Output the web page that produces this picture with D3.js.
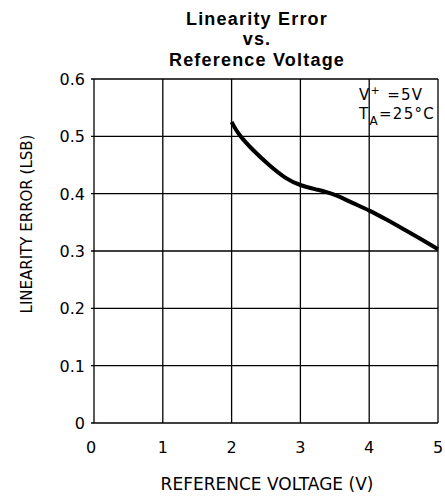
<!DOCTYPE html>
<html>
<head>
<meta charset="utf-8">
<script src="https://cdn.jsdelivr.net/npm/d3@7"></script>
<style>
  body { margin: 0; background: #fff; }
  svg { display: block; }
  .lbl { font-family: "DejaVu Sans", sans-serif; fill: #000; }
  .title { font-family: "Liberation Sans", Arial, sans-serif; font-weight: bold; font-size: 18px; letter-spacing: 1.2px; fill: #000; }
</style>
</head>
<body>
<svg id="chart" width="445" height="497"></svg>
<script>
// curve
var voltage = [2.0, 2.1, 2.3, 2.55, 2.8, 3.0, 3.25, 3.5, 3.75, 4.0, 4.25, 4.5, 4.75, 5.0];
var error   = [0.525, 0.503, 0.477, 0.449, 0.425, 0.414, 0.407, 0.399, 0.384, 0.371, 0.355, 0.338, 0.321, 0.303];

var xTicks = [0, 1, 2, 3, 4, 5];
var yTicks = [0, 0.1, 0.2, 0.3, 0.4, 0.5, 0.6];
var titleLines = ["Linearity Error", "vs.", "Reference Voltage"];

var svg = d3.select("#chart");
var plot = {left: 94, right: 438, top: 79, bottom: 423};

var x = d3.scaleLinear().domain([0, 5]).range([plot.left, plot.right]);
var y = d3.scaleLinear().domain([0, 0.6]).range([plot.bottom, plot.top]);

// grid
svg.append("g")
    .selectAll("line")
    .data(xTicks)
    .join("line")
    .attr("x1", d => x(d)).attr("x2", d => x(d))
    .attr("y1", plot.top).attr("y2", plot.bottom)
    .attr("stroke", "#000").attr("stroke-width", 1.3);

svg.append("g")
    .selectAll("line")
    .data(yTicks)
    .join("line")
    .attr("x1", plot.left - 3).attr("x2", plot.right)
    .attr("y1", d => y(d)).attr("y2", d => y(d))
    .attr("stroke", "#000").attr("stroke-width", 1.3);

// tick labels
svg.append("g")
    .selectAll("text")
    .data(xTicks)
    .join("text")
    .attr("class", "lbl")
    .attr("x", d => x(d) - (d == 0 ? 3 : 0))
    .attr("y", 453)
    .attr("text-anchor", "middle")
    .style("font-size", "16px")
    .text(d => d);

svg.append("g")
    .selectAll("text")
    .data(yTicks)
    .join("text")
    .attr("class", "lbl")
    .attr("x", 85)
    .attr("y", d => y(d) + 6)
    .attr("text-anchor", "end")
    .style("font-size", "16px")
    .text(d => d == 0 ? "0" : d3.format(".1f")(d));

// axis titles
svg.append("text")
    .attr("class", "lbl")
    .attr("x", 267)
    .attr("y", 490)
    .attr("text-anchor", "middle")
    .style("font-size", "17px")
    .text("REFERENCE VOLTAGE (V)");

svg.append("text")
    .attr("class", "lbl")
    .attr("transform", "translate(32,224) rotate(-90)")
    .attr("text-anchor", "middle")
    .style("font-size", "15px")
    .text("LINEARITY ERROR (LSB)");

// title
svg.append("g")
    .selectAll("text")
    .data(titleLines)
    .join("text")
    .attr("class", "title")
    .attr("x", 257)
    .attr("y", (d, i) => 25 + i * 20.3)
    .attr("text-anchor", "middle")
    .text(d => d);

// conditions
var cond = svg.append("text").attr("class", "lbl").style("font-size", "15px")
    .style("letter-spacing", "1.3px")
    .attr("x", 359).attr("y", 100);
cond.append("tspan").text("V");
cond.append("tspan").attr("dy", -6).style("font-size", "11px").text("+");
cond.append("tspan").attr("dy", 6).text(" =5V");

var cond2 = svg.append("text").attr("class", "lbl").style("font-size", "15px")
    .style("letter-spacing", "1.3px")
    .attr("x", 359).attr("y", 119);
cond2.append("tspan").text("T");
cond2.append("tspan").attr("dy", 6).style("font-size", "12px").text("A");
cond2.append("tspan").attr("dy", -6).text("=25°C");

// curve
var line = d3.line()
    .x((d, i) => x(voltage[i]))
    .y((d, i) => y(d))
    .curve(d3.curveBasis);

svg.append("path")
    .attr("d", line(error))
    .attr("fill", "none")
    .attr("stroke", "#000")
    .attr("stroke-width", 4);
</script>
</body>
</html>
